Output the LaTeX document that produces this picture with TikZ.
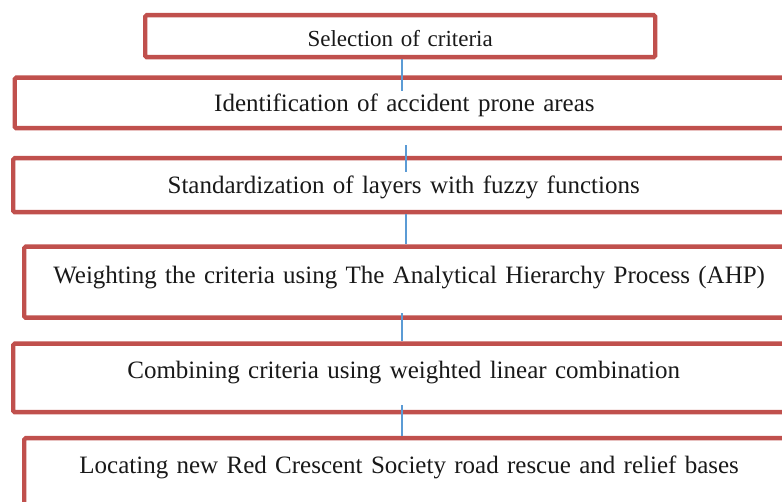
\documentclass[tikz,border=0pt]{standalone}
\usepackage{fontspec}
\setmainfont{Liberation Serif}
\definecolor{boxred}{RGB}{192,80,77}
\definecolor{linkblue}{RGB}{91,155,213}
\begin{document}
\begin{tikzpicture}[x=1pt, y=-1pt,
        step box/.style={draw=boxred, line width=4.3pt, rounded corners=1.5pt, fill=white, inner sep=0pt, anchor=north west, align=center, text=black!90, font=\fontsize{25}{30}\selectfont},
        link/.style={draw=linkblue, line width=1.6pt}]
                \useasboundingbox (0,0) rectangle (782,502);
                \clip (0,0) rectangle (782,502);

                \node[step box, text width=510pt, text height=31pt, text depth=11pt, font=\fontsize{23}{28}\selectfont] at (143, 13) (b1) {Selection of criteria};
                \node[step box, text width=779.5pt, text height=33.5pt, text depth=17pt] at (12.5, 75.5) (b2) {Identification of accident prone areas};
                \node[step box, text width=781pt, text height=35.5pt, text depth=18.5pt] at (11, 156) (b3) {Standardization of layers with fuzzy functions};
                \node[step box, text width=770pt, text height=36.5pt, text depth=34.5pt] at (22, 244.5) (b4) {Weighting the criteria using The Analytical Hierarchy Process (AHP)};
                \node[step box, text width=781pt, text height=34.5pt, text depth=34pt] at (11, 341.5) (b5) {Combining criteria using weighted linear combination};
                \node[step box, text width=770pt, text height=35pt, text depth=49pt] at (22, 436) (b6) {Locating new Red Crescent Society road rescue and relief bases};

                \coordinate (colA) at (402, 0);
                \coordinate (colB) at (406, 0);

            \path[link] (b1.south -| colA) -- ([yshift=-15.5pt]b2.north -| colA);
            \path[link] ([yshift=-15pt]b2.south -| colB) -- ([yshift=-16pt]b3.north -| colB);
            \path[link] (b3.south -| colB) -- (b4.north -| colB);
            \path[link] ([yshift=6.5pt]b4.south -| colA) -- (b5.north -| colA);
            \path[link] ([yshift=9pt]b5.south -| colA) -- (b6.north -| colA);

            \end{tikzpicture}
\end{document}
